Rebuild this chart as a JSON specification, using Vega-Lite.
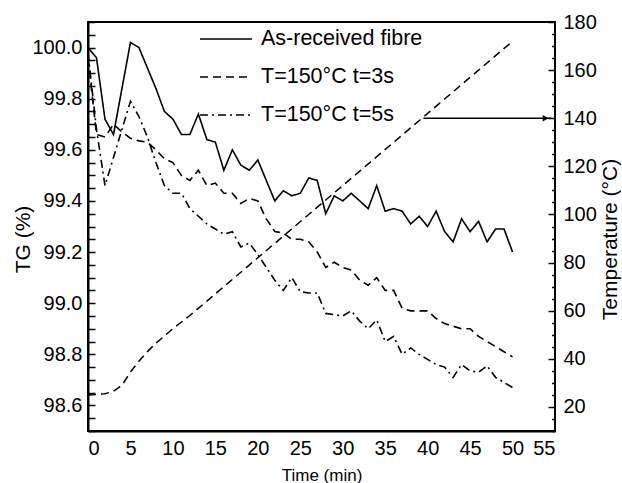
{
  "$schema": "https://vega.github.io/schema/vega-lite/v6.json",
  "autosize": {"type": "none"},
  "width": 467,
  "height": 409,
  "padding": {"left": 88, "top": 22, "right": 67, "bottom": 52},
  "background": "white",
  "config": {
    "view": {"stroke": "black", "strokeWidth": 2},
    "font": "Liberation Sans",
    "axis": {
      "grid": false,
      "domainColor": "black",
      "domainWidth": 2,
      "tickColor": "black",
      "tickWidth": 1.5,
      "labelColor": "black",
      "titleColor": "black",
      "labelFontSize": 20,
      "titleFontWeight": "normal"
    }
  },
  "datasets": {
    "tg": [
      {"t":0,"tg":100.0,"s":"As-received fibre"},{"t":1,"tg":99.96,"s":"As-received fibre"},{"t":2,"tg":99.72,"s":"As-received fibre"},{"t":3,"tg":99.66,"s":"As-received fibre"},{"t":4,"tg":99.84,"s":"As-received fibre"},{"t":5,"tg":100.02,"s":"As-received fibre"},{"t":6,"tg":100.0,"s":"As-received fibre"},{"t":7,"tg":99.92,"s":"As-received fibre"},{"t":8,"tg":99.84,"s":"As-received fibre"},{"t":9,"tg":99.75,"s":"As-received fibre"},{"t":10,"tg":99.72,"s":"As-received fibre"},{"t":11,"tg":99.66,"s":"As-received fibre"},{"t":12,"tg":99.66,"s":"As-received fibre"},{"t":13,"tg":99.74,"s":"As-received fibre"},{"t":14,"tg":99.64,"s":"As-received fibre"},{"t":15,"tg":99.63,"s":"As-received fibre"},{"t":16,"tg":99.52,"s":"As-received fibre"},{"t":17,"tg":99.6,"s":"As-received fibre"},{"t":18,"tg":99.54,"s":"As-received fibre"},{"t":19,"tg":99.52,"s":"As-received fibre"},{"t":20,"tg":99.56,"s":"As-received fibre"},{"t":21,"tg":99.48,"s":"As-received fibre"},{"t":22,"tg":99.4,"s":"As-received fibre"},{"t":23,"tg":99.44,"s":"As-received fibre"},{"t":24,"tg":99.42,"s":"As-received fibre"},{"t":25,"tg":99.43,"s":"As-received fibre"},{"t":26,"tg":99.49,"s":"As-received fibre"},{"t":27,"tg":99.48,"s":"As-received fibre"},{"t":28,"tg":99.35,"s":"As-received fibre"},{"t":29,"tg":99.42,"s":"As-received fibre"},{"t":30,"tg":99.4,"s":"As-received fibre"},{"t":31,"tg":99.43,"s":"As-received fibre"},{"t":32,"tg":99.4,"s":"As-received fibre"},{"t":33,"tg":99.37,"s":"As-received fibre"},{"t":34,"tg":99.46,"s":"As-received fibre"},{"t":35,"tg":99.36,"s":"As-received fibre"},{"t":36,"tg":99.37,"s":"As-received fibre"},{"t":37,"tg":99.36,"s":"As-received fibre"},{"t":38,"tg":99.31,"s":"As-received fibre"},{"t":39,"tg":99.34,"s":"As-received fibre"},{"t":40,"tg":99.3,"s":"As-received fibre"},{"t":41,"tg":99.36,"s":"As-received fibre"},{"t":42,"tg":99.28,"s":"As-received fibre"},{"t":43,"tg":99.24,"s":"As-received fibre"},{"t":44,"tg":99.33,"s":"As-received fibre"},{"t":45,"tg":99.28,"s":"As-received fibre"},{"t":46,"tg":99.32,"s":"As-received fibre"},{"t":47,"tg":99.24,"s":"As-received fibre"},{"t":48,"tg":99.29,"s":"As-received fibre"},{"t":49,"tg":99.29,"s":"As-received fibre"},{"t":50,"tg":99.2,"s":"As-received fibre"},
      {"t":0,"tg":99.96,"s":"T=150°C t=3s"},{"t":1,"tg":99.66,"s":"T=150°C t=3s"},{"t":2,"tg":99.65,"s":"T=150°C t=3s"},{"t":3,"tg":99.7,"s":"T=150°C t=3s"},{"t":4,"tg":99.67,"s":"T=150°C t=3s"},{"t":5,"tg":99.645,"s":"T=150°C t=3s"},{"t":6,"tg":99.635,"s":"T=150°C t=3s"},{"t":7,"tg":99.63,"s":"T=150°C t=3s"},{"t":8,"tg":99.6,"s":"T=150°C t=3s"},{"t":9,"tg":99.565,"s":"T=150°C t=3s"},{"t":10,"tg":99.55,"s":"T=150°C t=3s"},{"t":11,"tg":99.5,"s":"T=150°C t=3s"},{"t":12,"tg":99.48,"s":"T=150°C t=3s"},{"t":13,"tg":99.52,"s":"T=150°C t=3s"},{"t":14,"tg":99.46,"s":"T=150°C t=3s"},{"t":15,"tg":99.47,"s":"T=150°C t=3s"},{"t":16,"tg":99.43,"s":"T=150°C t=3s"},{"t":17,"tg":99.43,"s":"T=150°C t=3s"},{"t":18,"tg":99.39,"s":"T=150°C t=3s"},{"t":19,"tg":99.41,"s":"T=150°C t=3s"},{"t":20,"tg":99.4,"s":"T=150°C t=3s"},{"t":21,"tg":99.33,"s":"T=150°C t=3s"},{"t":22,"tg":99.28,"s":"T=150°C t=3s"},{"t":23,"tg":99.275,"s":"T=150°C t=3s"},{"t":24,"tg":99.25,"s":"T=150°C t=3s"},{"t":25,"tg":99.25,"s":"T=150°C t=3s"},{"t":26,"tg":99.24,"s":"T=150°C t=3s"},{"t":27,"tg":99.2,"s":"T=150°C t=3s"},{"t":28,"tg":99.14,"s":"T=150°C t=3s"},{"t":29,"tg":99.16,"s":"T=150°C t=3s"},{"t":30,"tg":99.14,"s":"T=150°C t=3s"},{"t":31,"tg":99.13,"s":"T=150°C t=3s"},{"t":32,"tg":99.09,"s":"T=150°C t=3s"},{"t":33,"tg":99.07,"s":"T=150°C t=3s"},{"t":34,"tg":99.1,"s":"T=150°C t=3s"},{"t":35,"tg":99.05,"s":"T=150°C t=3s"},{"t":36,"tg":99.05,"s":"T=150°C t=3s"},{"t":37,"tg":98.98,"s":"T=150°C t=3s"},{"t":38,"tg":98.97,"s":"T=150°C t=3s"},{"t":39,"tg":98.97,"s":"T=150°C t=3s"},{"t":40,"tg":98.97,"s":"T=150°C t=3s"},{"t":41,"tg":98.94,"s":"T=150°C t=3s"},{"t":42,"tg":98.92,"s":"T=150°C t=3s"},{"t":43,"tg":98.91,"s":"T=150°C t=3s"},{"t":44,"tg":98.9,"s":"T=150°C t=3s"},{"t":45,"tg":98.9,"s":"T=150°C t=3s"},{"t":46,"tg":98.87,"s":"T=150°C t=3s"},{"t":47,"tg":98.85,"s":"T=150°C t=3s"},{"t":48,"tg":98.83,"s":"T=150°C t=3s"},{"t":49,"tg":98.81,"s":"T=150°C t=3s"},{"t":50,"tg":98.79,"s":"T=150°C t=3s"},
      {"t":0,"tg":99.98,"s":"T=150°C t=5s"},{"t":1,"tg":99.68,"s":"T=150°C t=5s"},{"t":2,"tg":99.46,"s":"T=150°C t=5s"},{"t":3,"tg":99.57,"s":"T=150°C t=5s"},{"t":4,"tg":99.68,"s":"T=150°C t=5s"},{"t":5,"tg":99.79,"s":"T=150°C t=5s"},{"t":6,"tg":99.73,"s":"T=150°C t=5s"},{"t":7,"tg":99.65,"s":"T=150°C t=5s"},{"t":8,"tg":99.55,"s":"T=150°C t=5s"},{"t":9,"tg":99.46,"s":"T=150°C t=5s"},{"t":10,"tg":99.43,"s":"T=150°C t=5s"},{"t":11,"tg":99.43,"s":"T=150°C t=5s"},{"t":12,"tg":99.37,"s":"T=150°C t=5s"},{"t":13,"tg":99.34,"s":"T=150°C t=5s"},{"t":14,"tg":99.31,"s":"T=150°C t=5s"},{"t":15,"tg":99.29,"s":"T=150°C t=5s"},{"t":16,"tg":99.27,"s":"T=150°C t=5s"},{"t":17,"tg":99.28,"s":"T=150°C t=5s"},{"t":18,"tg":99.22,"s":"T=150°C t=5s"},{"t":19,"tg":99.235,"s":"T=150°C t=5s"},{"t":20,"tg":99.19,"s":"T=150°C t=5s"},{"t":21,"tg":99.14,"s":"T=150°C t=5s"},{"t":22,"tg":99.09,"s":"T=150°C t=5s"},{"t":23,"tg":99.05,"s":"T=150°C t=5s"},{"t":24,"tg":99.1,"s":"T=150°C t=5s"},{"t":25,"tg":99.045,"s":"T=150°C t=5s"},{"t":26,"tg":99.04,"s":"T=150°C t=5s"},{"t":27,"tg":99.04,"s":"T=150°C t=5s"},{"t":28,"tg":98.96,"s":"T=150°C t=5s"},{"t":29,"tg":98.955,"s":"T=150°C t=5s"},{"t":30,"tg":98.95,"s":"T=150°C t=5s"},{"t":31,"tg":98.97,"s":"T=150°C t=5s"},{"t":32,"tg":98.93,"s":"T=150°C t=5s"},{"t":33,"tg":98.9,"s":"T=150°C t=5s"},{"t":34,"tg":98.935,"s":"T=150°C t=5s"},{"t":35,"tg":98.85,"s":"T=150°C t=5s"},{"t":36,"tg":98.87,"s":"T=150°C t=5s"},{"t":37,"tg":98.8,"s":"T=150°C t=5s"},{"t":38,"tg":98.825,"s":"T=150°C t=5s"},{"t":39,"tg":98.8,"s":"T=150°C t=5s"},{"t":40,"tg":98.78,"s":"T=150°C t=5s"},{"t":41,"tg":98.76,"s":"T=150°C t=5s"},{"t":42,"tg":98.75,"s":"T=150°C t=5s"},{"t":43,"tg":98.71,"s":"T=150°C t=5s"},{"t":44,"tg":98.76,"s":"T=150°C t=5s"},{"t":45,"tg":98.735,"s":"T=150°C t=5s"},{"t":46,"tg":98.73,"s":"T=150°C t=5s"},{"t":47,"tg":98.755,"s":"T=150°C t=5s"},{"t":48,"tg":98.71,"s":"T=150°C t=5s"},{"t":49,"tg":98.69,"s":"T=150°C t=5s"},{"t":50,"tg":98.67,"s":"T=150°C t=5s"}
    ],
    "temp": [
      {"t":0,"temp":25},{"t":1,"temp":25.2},{"t":2,"temp":25.5},{"t":3,"temp":26.5},{"t":4,"temp":29},{"t":5,"temp":34.5},{"t":6,"temp":39},{"t":7,"temp":43},{"t":8,"temp":46.5},{"t":10,"temp":52.5},{"t":12,"temp":58},{"t":14,"temp":64},{"t":16,"temp":70},{"t":18,"temp":76},{"t":20,"temp":82},{"t":22,"temp":88},{"t":24,"temp":94},{"t":26,"temp":100},{"t":28,"temp":106},{"t":30,"temp":112},{"t":32,"temp":118},{"t":34,"temp":124},{"t":36,"temp":130},{"t":38,"temp":136},{"t":40,"temp":142},{"t":42,"temp":148},{"t":44,"temp":154},{"t":46,"temp":160},{"t":48,"temp":166},{"t":50,"temp":172}
    ],
    "arrow": [{"t":39.5,"t2":54.6,"temp":140}],
    "arrowhead": [{"t":53.9,"temp":140}]
  },
  "encoding": {
    "x": {
      "field": "t", "type": "quantitative",
      "scale": {"domain": [0, 55], "nice": false, "zero": false},
      "axis": {
        "title": "Time (min)",
        "titleFontSize": 17,
        "titleColor": "black",
        "titleBaseline": "alphabetic",
        "titleY": 49,
        "ticks": false,
        "values": [0,5,10,15,20,25,30,35,40,45,50,55],
        "labelOverlap": false,
        "labelPadding": 7
      }
    }
  },
  "layer": [
    {
      "data": {"name": "tg"},
      "mark": {"type": "line", "color": "black", "strokeWidth": 1.6},
      "encoding": {
        "y": {
          "field": "tg", "type": "quantitative",
          "scale": {"domain": [98.5, 100.1], "nice": false, "zero": false},
          "axis": {
            "title": "TG (%)",
            "titleFontSize": 21,
            "titleColor": "black",
            "titleX": -55,
            "titleY": 217,
            "titleBaseline": "bottom",
            "format": ".1f",
            "ticks": true,
            "zindex": 1,
            "values": [98.5,98.55,98.6,98.65,98.7,98.75,98.8,98.85,98.9,98.95,99.0,99.05,99.1,99.15,99.2,99.25,99.3,99.35,99.4,99.45,99.5,99.55,99.6,99.65,99.7,99.75,99.8,99.85,99.9,99.95,100.0,100.05,100.1],
            "labelExpr": "round(datum.value*100) % 20 === 0 ? datum.label : ''",
            "labelOverlap": false,
            "tickSize": -7,
            "labelPadding": 13
          }
        },
        "strokeDash": {
          "field": "s", "type": "nominal",
          "scale": {"domain": ["As-received fibre", "T=150°C t=3s", "T=150°C t=5s"], "range": [[1, 0], [8, 5], [8, 4, 2, 4]]},
          "legend": {
            "title": null,
            "orient": "none",
            "legendX": 111,
            "legendY": -10,
            "padding": 0,
            "symbolType": "stroke",
            "symbolSize": 2704,
            "symbolStrokeWidth": 1.6,
            "symbolStrokeColor": "black",
            "labelFont": "Liberation Sans",
            "labelFontSize": 21.5,
            "labelColor": "black",
            "labelOffset": 8,
            "rowPadding": 0,
            "labelLimit": 400
          }
        }
      }
    },
    {
      "encoding": {
        "y": {
          "field": "temp", "type": "quantitative",
          "scale": {"domain": [10, 180], "nice": false, "zero": false},
          "axis": {
            "orient": "right",
            "title": "Temperature (°C)",
            "titleFontSize": 21,
            "titleColor": "black",
            "titleAngle": -90,
            "titleX": 72,
            "titleY": 217,
            "titleBaseline": "bottom",
            "titleAlign": "center",
            "ticks": true,
            "offset": -7,
            "domain": false,
            "tickSize": 7,
            "values": [10,15,20,25,30,35,40,45,50,55,60,65,70,75,80,85,90,95,100,105,110,115,120,125,130,135,140,145,150,155,160,165,170,175,180],
            "labelExpr": "datum.value % 20 === 0 ? datum.label : ''",
            "labelOverlap": false,
            "tickDash": {"condition": {"test": "datum.value % 20 === 0", "value": [7, 0]}, "value": [0, 3.5, 3.5, 100]},
            "labelPadding": 8
          }
        }
      },
      "layer": [
        {
          "data": {"name": "temp"},
          "mark": {"type": "line", "color": "black", "strokeWidth": 1.5, "strokeDash": [8, 5]}
        },
        {
          "data": {"name": "arrow"},
          "mark": {"type": "rule", "color": "black", "strokeWidth": 1.5},
          "encoding": {"x2": {"field": "t2"}}
        },
        {
          "data": {"name": "arrowhead"},
          "mark": {"type": "point", "shape": "triangle-right", "filled": true, "color": "black", "size": 45, "opacity": 1}
        }
      ]
    }
  ],
  "resolve": {"scale": {"y": "independent"}}
}
